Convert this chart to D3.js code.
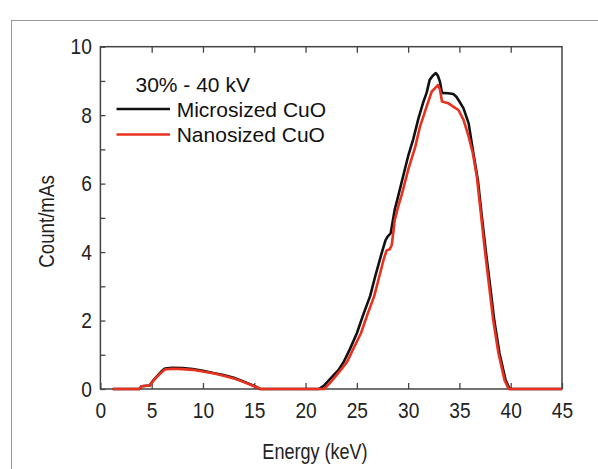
<!DOCTYPE html>
<html>
<head>
<meta charset="utf-8">
<script src="https://cdn.jsdelivr.net/npm/d3@7"></script>
<style>
  body { margin: 0; background: #fff; }
  .osa text { font-family: "Liberation Sans", Arial, sans-serif; font-size: 22px; fill: #222; }
  .osa line { stroke: #444; stroke-width: 1.3; }
  .naslov { font-family: "Liberation Sans", Arial, sans-serif; font-size: 22px; fill: #222; }
  .legenda { font-family: "Liberation Sans", Arial, sans-serif; font-size: 21px; fill: #111; }
</style>
</head>
<body>
<div id="okvir"></div>
<script>
// podaci (ocitani sa slike)
const energijaMikro = [1.2, 3.8, 4.0, 4.8, 5.2, 5.6, 6.0, 6.3, 7.0, 8.0, 9.0, 10.0, 11.0, 12.0, 13.0, 14.0, 15.0, 15.6,
  21.3, 21.8, 22.6, 23.2, 23.7, 24.3, 25.0, 25.6, 26.3, 26.8, 27.4, 27.8, 28.0, 28.3, 28.5, 28.7, 29.0, 29.5, 30.0,
  30.5, 31.0, 31.5, 31.8, 32.1, 32.4, 32.7, 32.9, 33.1, 33.3, 33.9, 34.4, 34.7, 35.0, 35.4, 35.9, 36.3, 36.8, 37.2,
  37.6, 38.0, 38.4, 38.9, 39.5, 39.9, 45]
const brojMikro = [0, 0, 0.08, 0.1, 0.27, 0.4, 0.53, 0.6, 0.62, 0.61, 0.58, 0.53, 0.47, 0.41, 0.33, 0.21, 0.09, 0,
  0, 0.1, 0.36, 0.55, 0.78, 1.15, 1.63, 2.15, 2.72, 3.3, 3.95, 4.35, 4.45, 4.55, 4.9, 5.25, 5.6, 6.2, 6.8,
  7.3, 7.9, 8.4, 8.65, 9.03, 9.15, 9.23, 9.15, 8.98, 8.65, 8.64, 8.62, 8.54, 8.4, 8.2, 7.76, 7.0, 6.1, 5.0,
  3.96, 3.0, 2.0, 1.05, 0.26, 0, 0]

const energijaNano = [1.2, 3.8, 4.0, 4.8, 5.2, 5.6, 6.0, 6.3, 7.0, 8.0, 9.0, 10.0, 11.0, 12.0, 13.0, 14.0, 15.0, 15.6,
  21.8, 22.3, 22.9, 23.5, 24.06, 24.7, 25.4, 26.0, 26.7, 27.2, 27.6, 27.9, 28.2, 28.4, 28.7, 29.0, 29.4, 30.0,
  30.7, 31.15, 31.8, 32.3, 32.6, 32.9, 33.1, 33.3, 33.9, 34.4, 34.9, 35.4, 35.9, 36.3, 36.7, 37.1, 37.5, 37.9,
  38.3, 38.8, 39.4, 39.8, 45]
const brojNano = [0, 0, 0.08, 0.1, 0.25, 0.38, 0.5, 0.57, 0.59, 0.58, 0.56, 0.51, 0.46, 0.39, 0.31, 0.2, 0.08, 0,
  0, 0.15, 0.36, 0.58, 0.8, 1.2, 1.63, 2.15, 2.72, 3.3, 3.77, 4.05, 4.08, 4.2, 4.94, 5.3, 5.7, 6.4,
  7.08, 7.66, 8.25, 8.69, 8.78, 8.88, 8.75, 8.4, 8.35, 8.25, 8.15, 7.86, 7.37, 6.9, 6.2, 5.1, 4.0, 3.0,
  2.0, 1.05, 0.26, 0, 0]

const xTickovi = [0, 5, 10, 15, 20, 25, 30, 35, 40, 45]
const yTickovi = [0, 1, 2, 3, 4, 5, 6, 7, 8, 9, 10]
const serije = ["Microsized CuO", "Nanosized CuO"]
const naslovLegende = "30% - 40 kV"

let dimenzije = {
  sirina: 598,
  visina: 469,
  margine: { top: 46.7, right: 36, bottom: 80, left: 100.4 },
}
dimenzije.grSirina = dimenzije.sirina - dimenzije.margine.left - dimenzije.margine.right
dimenzije.grVisina = dimenzije.visina - dimenzije.margine.top - dimenzije.margine.bottom

const okvir = d3.select("#okvir")
  .append("svg")
  .attr("width", dimenzije.sirina)
  .attr("height", dimenzije.visina)

// sivi okvir oko slike
okvir.append("rect")
  .attr("x", 11.5).attr("y", 20.5)
  .attr("width", 620).attr("height", 480)
  .attr("fill", "none").attr("stroke", "#999").attr("stroke-width", 1)

const granice = okvir.append("g")
  .attr("transform", `translate(${dimenzije.margine.left},${dimenzije.margine.top})`)

const xSkala = d3.scaleLinear().domain([0, 45]).range([0, dimenzije.grSirina])
const ySkala = d3.scaleLinear().domain([0, 10]).range([dimenzije.grVisina, 0])

// suzi tekst (uski font nije instaliran)
function suzi(sel, faktor) {
  sel.each(function () {
    const duz = this.getComputedTextLength()
    if (duz > 0) d3.select(this)
      .attr("textLength", duz * faktor)
      .attr("lengthAdjust", "spacingAndGlyphs")
  })
}

// osi
const xOs = granice.append("g").attr("class", "osa")
  .attr("transform", `translate(0,${dimenzije.grVisina})`)
  .call(d3.axisBottom(xSkala).tickValues(xTickovi).tickSizeInner(-6).tickSizeOuter(0).tickPadding(13))
xOs.select(".domain").remove()
suzi(xOs.selectAll("text"), 0.87)

const xOsGore = granice.append("g").attr("class", "osa")
  .call(d3.axisTop(xSkala).tickValues(xTickovi.slice(1, -1)).tickSizeInner(-6).tickSizeOuter(0).tickFormat(""))
xOsGore.select(".domain").remove()

const yOs = granice.append("g").attr("class", "osa")
  .call(d3.axisLeft(ySkala).tickValues(yTickovi).tickSizeInner(-5).tickSizeOuter(0).tickPadding(8.5)
    .tickFormat(d => d % 2 ? "" : d))
yOs.select(".domain").remove()
suzi(yOs.selectAll("text"), 0.87)

granice.append("rect")
  .attr("width", dimenzije.grSirina).attr("height", dimenzije.grVisina)
  .attr("fill", "none").attr("stroke", "#444").attr("stroke-width", 1.5)

// linije
const linijaGenerator = d3.line()
  .x(d => xSkala(d[0]))
  .y(d => ySkala(d[1]))
  .curve(d3.curveLinear)

const podaciMikro = d3.zip(energijaMikro, brojMikro)
const podaciNano = d3.zip(energijaNano, brojNano)

granice.append("path")
  .attr("d", linijaGenerator(podaciMikro))
  .attr("fill", "none").attr("stroke", "#111").attr("stroke-width", 2.6)
  .attr("stroke-linejoin", "round")

granice.append("path")
  .attr("d", linijaGenerator(podaciNano))
  .attr("fill", "none").attr("stroke", "#e8321f").attr("stroke-width", 2.6)
  .attr("stroke-linejoin", "round")

// naslovi osi
const xNaslov = okvir.append("text").attr("class", "naslov")
  .attr("x", 315).attr("y", 459)
  .attr("text-anchor", "middle")
  .text("Energy (keV)")
suzi(xNaslov, 0.82)

const yNaslov = okvir.append("text").attr("class", "naslov")
  .attr("transform", "translate(54,221.5) rotate(-90)")
  .attr("text-anchor", "middle")
  .text("Count/mAs")
suzi(yNaslov, 0.85)

// legenda
const legendaGrupa = okvir.append("g")
legendaGrupa.append("text").attr("class", "legenda")
  .attr("x", 135.5).attr("y", 91.7)
  .text(naslovLegende)

const bojeSerija = ["#111", "#e8321f"]
serije.forEach((s, i) => {
  const y = 109 + i * 25.5
  legendaGrupa.append("line")
    .attr("x1", 116.5).attr("x2", 170).attr("y1", y).attr("y2", y)
    .attr("stroke", bojeSerija[i]).attr("stroke-width", 2.6)
  legendaGrupa.append("text").attr("class", "legenda")
    .attr("x", 176.7).attr("y", y + 7.7)
    .text(s)
})
</script>
</body>
</html>
